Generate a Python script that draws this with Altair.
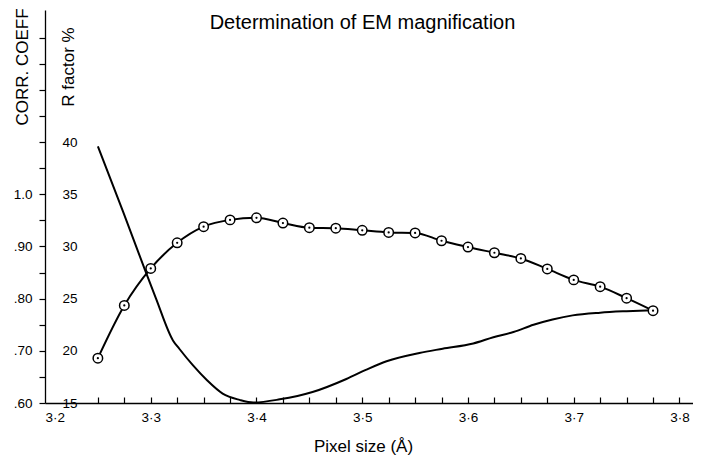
import altair as alt
import pandas as pd

FONT = "Liberation Sans"

# ---- data ----
corr_x = [3.250, 3.275, 3.300, 3.325, 3.350, 3.375, 3.400, 3.425, 3.450, 3.475, 3.500,
          3.525, 3.550, 3.575, 3.600, 3.625, 3.650, 3.675, 3.700, 3.725, 3.750, 3.775]
corr_val = [0.686, 0.787, 0.858, 0.907, 0.938, 0.951, 0.955, 0.945, 0.936, 0.935, 0.931,
            0.927, 0.926, 0.911, 0.899, 0.888, 0.877, 0.857, 0.836, 0.823, 0.801, 0.777]

r_x = [3.250, 3.274, 3.294, 3.305, 3.321, 3.327, 3.340, 3.353, 3.368, 3.384, 3.397,
       3.422, 3.453, 3.485, 3.504, 3.523, 3.554, 3.576, 3.605, 3.624, 3.643, 3.662,
       3.680, 3.699, 3.725, 3.750, 3.775]
r_val = [39.6, 33.3, 27.9, 25.0, 21.0, 20.2, 18.6, 17.2, 15.9, 15.3, 15.05,
         15.35, 16.05, 17.3, 18.2, 19.0, 19.8, 20.2, 20.7, 21.3, 21.8, 22.5,
         23.0, 23.4, 23.66, 23.8, 23.9]

x_label_vals = [3.2, 3.3, 3.4, 3.5, 3.6, 3.7, 3.8]
x_label_text = ["3·2", "3·3", "3·4", "3·5", "3·6", "3·7", "3·8"]
x_minor_ticks = [3.25, 3.275, 3.3, 3.325, 3.35, 3.375, 3.4, 3.425, 3.45, 3.475, 3.5, 3.525,
                 3.55, 3.575, 3.6, 3.625, 3.65, 3.675, 3.7, 3.725, 3.75, 3.775, 3.8]
corr_tick_vals = [0.6, 0.65, 0.7, 0.75, 0.8, 0.85, 0.9, 0.95, 1.0, 1.05, 1.1, 1.15, 1.2, 1.25, 1.3]
corr_label_vals = [0.6, 0.7, 0.8, 0.9, 1.0]
corr_label_text = [".60", ".70", ".80", ".90", "1.0"]
r_label_vals = [15, 20, 25, 30, 35, 40]

x_domain = [3.2, 3.8128]
corr_domain = [0.6, 1.3533]
r_domain = [15, 52.67]


def label_expr(vals, texts):
    expr = "''"
    for v, t in zip(reversed(vals), reversed(texts)):
        expr = f"abs(datum.value - ({v})) < 0.001 ? '{t}' : ({expr})"
    return expr


corr_df = pd.DataFrame({"x": corr_x, "c": corr_val})
r_df = pd.DataFrame({"x": r_x, "r": r_val})

xs = alt.Scale(domain=x_domain, nice=False, zero=False)
cs = alt.Scale(domain=corr_domain, nice=False, zero=False)
rs = alt.Scale(domain=r_domain, nice=False, zero=False)

main_x_axis = alt.Axis(
    values=x_label_vals, labelExpr=label_expr(x_label_vals, x_label_text),
    ticks=False, tickSize=0, grid=False, domain=True, domainColor="black", domainWidth=1.3,
    labelFont=FONT, labelFontSize=13.5, labelColor="black", labelPadding=7,
    title="Pixel size (Å)", titleFont=FONT, titleFontSize=17, titleFontWeight="normal",
    titleColor="black", titleX=318, titleY=48, titleAlign="center", titleBaseline="alphabetic",
)
tick_x_axis = alt.Axis(
    orient="bottom", values=x_minor_ticks, labels=False, domain=False, grid=False,
    ticks=True, tickSize=6, tickColor="black", tickWidth=1.2, offset=-6, title=None,
)
corr_axis = alt.Axis(
    orient="left", values=corr_tick_vals, labelExpr=label_expr(corr_label_vals, corr_label_text),
    tickSize=6, tickColor="black", tickWidth=1.2, domainColor="black", domainWidth=1.3, grid=False,
    labelFont=FONT, labelFontSize=13.5, labelColor="black", labelPadding=7,
    title="CORR. COEFF", titleFont=FONT, titleFontSize=17, titleFontWeight="normal",
    titleColor="black", titleAngle=270, titleX=-18, titleY=56.5, titleAlign="center",
    titleBaseline="alphabetic",
)
r_axis = alt.Axis(
    orient="left", values=r_label_vals, ticks=False, tickSize=0, domain=False, grid=False,
    offset=-32, labelPadding=0, labelFont=FONT, labelFontSize=13.5, labelColor="black",
    title="R factor %", titleFont=FONT, titleFontSize=17, titleFontWeight="normal",
    titleColor="black", titleAngle=270, titleX=-4, titleY=56.5, titleAlign="center",
    titleBaseline="alphabetic",
)

r_line = alt.Chart(r_df).mark_line(color="black", strokeWidth=2, interpolate="monotone").encode(
    x=alt.X("x:Q", scale=xs, axis=main_x_axis),
    y=alt.Y("r:Q", scale=rs, axis=r_axis),
)

corr_base = alt.Chart(corr_df).encode(
    x=alt.X("x:Q", scale=xs, axis=tick_x_axis),
    y=alt.Y("c:Q", scale=cs, axis=corr_axis),
)
corr_line = corr_base.mark_line(color="black", strokeWidth=2, interpolate="monotone")
corr_pts = corr_base.mark_circle(
    fill="white", stroke="black", strokeWidth=1.5, size=90, opacity=1, fillOpacity=1
)
corr_dots = corr_base.mark_circle(color="black", size=5, opacity=1)

corr_group = alt.layer(corr_line, corr_pts, corr_dots)

chart = alt.layer(r_line, corr_group).resolve_scale(y="independent").resolve_axis(
    x="independent", y="independent"
).properties(
    width=648, height=393,
    background="white",
    autosize=alt.AutoSizeParams(type="none"),
    padding={"left": 37, "top": 2, "right": 0, "bottom": 52},
    title=alt.TitleParams(
        "Determination of EM magnification", font=FONT, fontSize=20, fontWeight="normal",
        color="black", anchor="middle", dx=-6.5, offset=-25,
    ),
).configure_view(stroke=None, strokeWidth=0)

chart.save("out.html", embed_options={"renderer": "svg", "actions": False})
